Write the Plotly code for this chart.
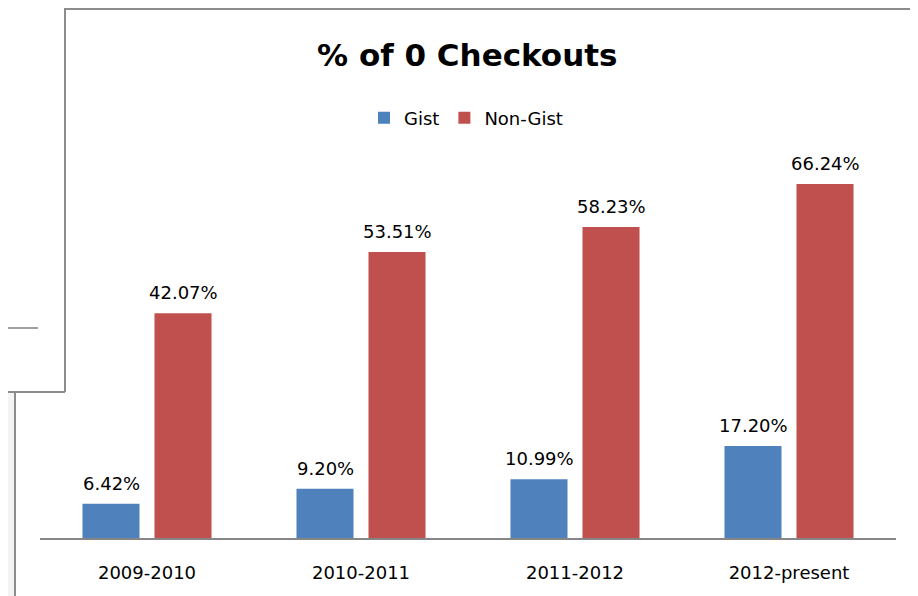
import plotly.graph_objects as go

periods = ["2009-2010", "2010-2011", "2011-2012", "2012-present"]
gist = [6.42, 9.20, 10.99, 17.20]
non_gist = [42.07, 53.51, 58.23, 66.24]

blue = "#4F81BD"
red = "#C0504D"

# the page body has an 8px margin, so the figure is 8px smaller than the window
OFF = 8
W, H = 918 - OFF, 596 - OFF
# plot area in window pixels
L, R, T, B = 40, 896, 164, 538


def px(x):
    return (x - L) / (R - L)


def py(y):
    return (B - y) / (B - T)


fig = go.Figure()
fig.add_trace(go.Bar(x=periods, y=gist, name="Gist", marker=dict(color=blue, line=dict(width=0))))
fig.add_trace(go.Bar(x=periods, y=non_gist, name="Non-Gist", marker=dict(color=red, line=dict(width=0))))

# value labels above the bars
for vals, shift in [(gist, -36), (non_gist, 36)]:
    for p, v in zip(periods, vals):
        fig.add_annotation(x=p, y=v, text="{:.2f}%".format(v), showarrow=False,
                           xshift=shift, yshift=8, yanchor="bottom",
                           font=dict(family="DejaVu Sans", size=18, color="#000000"))

# window / spreadsheet frame bits around the chart
grey = "#8c8c8c"


def line(x0, y0, x1, y1, color=grey):
    return dict(type="line", xref="paper", yref="paper", x0=px(x0), x1=px(x1), y0=py(y0), y1=py(y1),
                line=dict(color=color, width=2))


shapes = [
    line(65, 9, 918, 9),
    line(65, 0, 65, 392),
    line(0, 392, 65, 392),
    line(0, 328, 38, 328, "#a0a0a0"),
    dict(type="rect", xref="paper", yref="paper", x0=px(0), x1=px(15), y0=py(393), y1=py(596),
         fillcolor="#f4f4f4", line=dict(width=0)),
    line(15, 393, 15, 596),
]

fig.update_layout(
    width=W,
    height=H,
    margin=dict(l=L - OFF, r=918 - R, t=T - OFF, b=596 - B),
    paper_bgcolor="white",
    plot_bgcolor="white",
    barmode="group",
    bargap=0.327,
    bargroupgap=0.208,
    shapes=shapes,
    title=dict(text="<b>% of 0 Checkouts</b>", x=px(472), xanchor="center",
               y=1 - (55 - OFF) / H, yanchor="middle",
               font=dict(family="DejaVu Sans", size=31, color="#000000")),
    legend=dict(orientation="h", x=px(466), xanchor="center", y=py(118), yanchor="middle",
                font=dict(family="DejaVu Sans", size=18, color="#000000"),
                itemwidth=30, traceorder="normal"),
    xaxis=dict(showline=True, linecolor="#868686", linewidth=2, showgrid=False,
               ticks="outside", ticklen=17, tickcolor="rgba(0,0,0,0)",
               tickfont=dict(family="DejaVu Sans", size=18, color="#000000")),
    yaxis=dict(range=[0, 70], visible=False, showgrid=False),
    showlegend=True,
)

fig.write_html("out.html")
